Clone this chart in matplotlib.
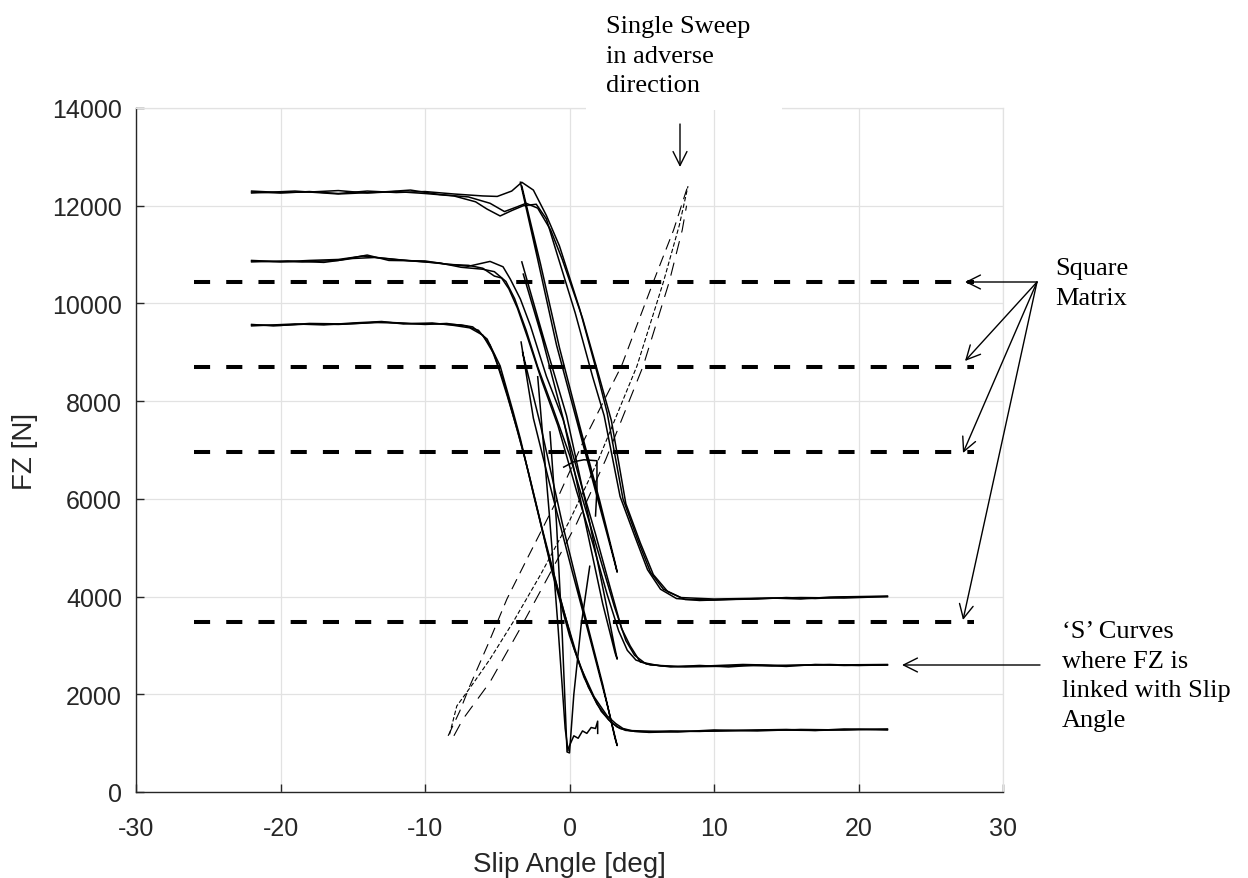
import matplotlib.pyplot as plt
from matplotlib.patches import Rectangle

plt.rcParams['axes.unicode_minus'] = False

# slip angle sweeps, group A (high load, ends near 4000 N)
a1_x = [-22, -20, -18, -16, -14, -12, -10, -8, -6, -5, -4, -3.3, -2.5, -1.6, -0.7, 0.7, 1.9, 2.6, 3.7, 4.7, 5.6, 6.5, 7.7, 10, 12, 14, 16, 18, 20, 22]
a1_y = [12280, 12260, 12290, 12250, 12300, 12270, 12290, 12240, 12200, 12190, 12300, 12480, 12320, 11800, 11180, 9890, 8590, 7770, 6000, 5180, 4500, 4150, 3980, 3950, 3960, 3970, 3950, 3990, 4000, 4010]
a2_x = [-22, -20, -18, -16, -14, -12, -10, -8, -6.5, -5.7, -4.8, -4, -3.2, -2.3, -1.6, -0.9, 0.4, 1.6, 2.4, 3.5, 4.5, 5.4, 6.3, 7.4, 9, 11, 13, 15, 17, 19, 22]
a2_y = [12300, 12270, 12280, 12310, 12260, 12290, 12250, 12200, 12080, 11930, 11790, 11900, 12000, 12030, 11730, 11050, 9800, 8500, 7700, 6050, 5250, 4550, 4150, 3960, 3920, 3940, 3950, 3980, 3960, 3990, 4000]
a3_x = [-22, -19, -16, -13, -11, -9, -7, -5.5, -4.5, -3.6, -3.0, -2.2, -1.3, -0.5, 0.9, 2.1, 2.9, 3.9, 4.9, 5.8, 6.8, 8, 10, 13, 16, 19, 22]
a3_y = [12260, 12300, 12240, 12280, 12320, 12230, 12180, 12050, 11880, 11980, 12050, 11950, 11500, 10900, 9700, 8450, 7600, 5900, 5100, 4450, 4100, 3940, 3930, 3960, 3980, 3970, 4000]

# group B (mid load, ends near 2600 N)
b1_x = [-22, -20, -18, -16, -14.3, -12, -10, -8, -7, -5.5, -4.6, -4.1, -3.4, -2.7, -1.6, -0.45, 0.8, 1.8, 2.8, 3.6, 4.2, 4.9, 6.3, 8, 10, 12, 14, 16, 18, 20, 22]
b1_y = [10870, 10850, 10880, 10900, 10970, 10900, 10850, 10790, 10760, 10860, 10750, 10500, 10090, 9540, 8510, 7630, 6300, 5280, 4200, 3350, 2990, 2660, 2580, 2560, 2570, 2590, 2580, 2600, 2610, 2590, 2600]
b2_x = [-22, -19.5, -17, -15, -13.5, -11, -9, -7.5, -6, -5.2, -4.4, -3.8, -3.0, -2.2, -1.2, 0, 1.2, 2.2, 3.1, 3.9, 4.5, 5.3, 7, 9, 11, 13, 15, 17, 19, 22]
b2_y = [10850, 10870, 10840, 10920, 10940, 10870, 10830, 10740, 10700, 10650, 10450, 10100, 9450, 8700, 7900, 6900, 5700, 4700, 3800, 3100, 2800, 2620, 2560, 2590, 2560, 2600, 2570, 2610, 2590, 2600]
b3_x = [-22, -20.5, -18.5, -16, -14, -12.5, -10, -8.5, -7, -6, -5.2, -4.7, -4.2, -3.6, -2.9, -1.9, -0.8, 0.5, 1.6, 2.6, 3.4, 4.0, 4.6, 5.6, 7.5, 9.5, 12, 15, 18, 22]
b3_y = [10880, 10860, 10850, 10880, 10990, 10880, 10870, 10800, 10780, 10720, 10560, 10520, 10300, 9900, 9300, 8400, 7500, 6150, 5100, 4050, 3300, 2900, 2700, 2600, 2570, 2580, 2610, 2590, 2600, 2610]

# group C (low load, ends near 1280 N)
c1_x = [-22, -20, -18, -16, -14, -13, -11, -9, -7.5, -6.7, -5.7, -4.8, -3.9, -3.4, -2.5, -1.56, -0.4, 0.73, 1.7, 2.6, 3.2, 3.7, 4.5, 5.4, 7, 9, 11, 13, 15, 17, 19, 22]
c1_y = [9560, 9550, 9580, 9570, 9600, 9620, 9590, 9580, 9560, 9520, 9270, 8720, 7780, 7230, 6100, 4970, 3700, 2580, 1950, 1560, 1400, 1300, 1240, 1230, 1250, 1240, 1260, 1270, 1280, 1260, 1290, 1280]
c2_x = [-22, -19, -17, -15, -13, -11.5, -9.5, -8, -6.9, -6.0, -5.2, -4.3, -3.6, -2.8, -1.9, -0.8, 0.3, 1.3, 2.2, 2.9, 3.5, 4.2, 5.5, 8, 11, 14, 17, 20, 22]
c2_y = [9540, 9580, 9560, 9600, 9630, 9580, 9600, 9550, 9500, 9350, 8950, 8100, 7400, 6500, 5400, 4150, 2950, 2150, 1650, 1420, 1300, 1250, 1220, 1240, 1250, 1270, 1260, 1280, 1270]
c3_x = [-22, -20.5, -18, -15.5, -13.5, -12, -10, -8.5, -7.2, -6.3, -5.5, -4.6, -3.8, -3.1, -2.2, -1.2, 0, 1.0, 1.9, 2.7, 3.3, 3.9, 5, 7.5, 10, 13, 16, 19, 22]
c3_y = [9570, 9540, 9590, 9580, 9610, 9600, 9570, 9590, 9540, 9450, 9150, 8450, 7600, 6850, 5750, 4500, 3200, 2350, 1800, 1480, 1330, 1260, 1250, 1230, 1270, 1250, 1280, 1270, 1290]

# narrow hysteresis loops from each peak
l1_x = [-3.4, -2.2, -0.9, 0.5, 1.9, 2.9, 3.3, 3.15, 2.1, 0.7, -0.7, -2.0, -3.3]
l1_y = [12480, 10900, 9150, 7600, 6050, 4950, 4500, 4700, 5950, 7500, 9100, 10800, 12400]
l2_x = [-3.3, -1.8, -0.2, 1.2, 2.5, 3.1, 3.3, 3.15, 2.3, 1.0, -0.4, -1.9, -3.2]
l2_y = [10850, 9300, 7700, 5800, 3900, 3000, 2720, 2850, 3850, 5650, 7600, 9300, 10600]
l3_x = [-3.35, -2.5, -1.2, 0.2, 1.5, 2.6, 3.3, 3.15, 2.3, 1.0, -0.5, -2.0, -3.25]
l3_y = [9210, 7650, 6100, 4500, 3050, 1800, 950, 1100, 2200, 3700, 5500, 7500, 9000]

# fast transients around zero slip
v1_x = [-1.35, -0.9, -0.5, -0.17, 0.0, 0.3, 0.8, 1.4]
v1_y = [7370, 5500, 3200, 820, 800, 2000, 3400, 4620]
v2_x = [-2.2, -1.4, -0.8, -0.3, -0.1]
v2_y = [8500, 5700, 3400, 1300, 850]
w_x = [-0.1, 0.3, 0.6, 0.9, 1.2, 1.5, 1.8, 1.95, 1.95]
w_y = [880, 1150, 1100, 1250, 1200, 1320, 1300, 1450, 1200]
h_x = [-0.4, 0.3, 1.0, 1.9, 1.9, 1.8]
h_y = [6650, 6760, 6800, 6780, 6200, 5650]

# single sweep in the adverse direction
d1_x = [-8.4, -7.6, -6.9, -5.6, -4.33, -2.94, -1.0, 1.0, 3.6, 5.8, 7.2, 8.27]
d1_y = [1150, 1650, 2170, 3050, 3950, 4770, 5900, 7200, 8720, 10440, 11500, 12480]
d2_x = [-8.3, -7.8, -6.6, -5.5, -3.9, -2.0, 0.0, 2.0, 4.67, 6.5, 7.6, 8.2]
d2_y = [1180, 1760, 2250, 2720, 3480, 4450, 5550, 6800, 8720, 10440, 11600, 12400]
d3_x = [-8.0, -7.37, -5.5, -3.43, -1.56, 0.5, 2.5, 5.1, 6.9, 7.8, 8.1]
d3_y = [1150, 1494, 2251, 3336, 4359, 5500, 6800, 8720, 10440, 11500, 12000]

# square test matrix load levels
matrix_fz = [10440, 8700, 6960, 3480]
matrix_x = [-26, 28]

W, H = 1248, 879


def fig_px(x, y):
    # pixel position measured from the top-left corner
    return x, H - y


fig = plt.figure(figsize=(W / 100, H / 100), dpi=100)
ax = fig.add_axes([136 / W, 1 - 793 / H, (1003 - 136) / W, (793 - 109) / H])

for fz in matrix_fz:
    ax.plot(matrix_x, [fz, fz], color='black', lw=2.9, dashes=(4, 4), zorder=3)

sweeps = [(a1_x, a1_y), (a2_x, a2_y), (a3_x, a3_y),
          (b1_x, b1_y), (b2_x, b2_y), (b3_x, b3_y),
          (c1_x, c1_y), (c2_x, c2_y), (c3_x, c3_y),
          (l1_x, l1_y), (l2_x, l2_y), (l3_x, l3_y),
          (v1_x, v1_y), (v2_x, v2_y), (w_x, w_y), (h_x, h_y)]
for sx, sy in sweeps:
    ax.plot(sx, sy, color='black', lw=1.1, zorder=2)

ax.plot(d1_x, d1_y, color='black', lw=0.8, dashes=(10, 6))
ax.plot(d2_x, d2_y, color='black', lw=0.8, dashes=(4, 2))
ax.plot(d3_x, d3_y, color='black', lw=0.8, dashes=(12, 8))

ax.set_xlim(-30, 30)
ax.set_ylim(0, 14000)
ax.set_xticks(range(-30, 31, 10))
ax.set_yticks(range(0, 14001, 2000))
ax.grid(True, color='#e2e2e2', lw=0.9)
ax.set_axisbelow(True)

for side in ['left', 'bottom']:
    ax.spines[side].set_color('#262626')
    ax.spines[side].set_linewidth(1.0)
for side in ['top', 'right']:
    ax.spines[side].set_color('#e2e2e2')
    ax.spines[side].set_linewidth(0.9)

ax.tick_params(direction='in', length=5.8, width=1.0, color='#262626',
               labelsize=18, labelcolor='#262626', top=False, right=False)
ax.tick_params(axis='x', pad=17)
ax.tick_params(axis='y', pad=10)
for lab in ax.get_xticklabels() + ax.get_yticklabels():
    lab.set_fontfamily('Liberation Sans')

ax.set_xlabel('Slip Angle [deg]', fontsize=20, family='Liberation Sans', color='#262626', labelpad=8)
ax.set_ylabel('FZ [N]', fontsize=20, family='Liberation Sans', color='#262626', labelpad=10)

# white panel behind the top note
fig.add_artist(Rectangle((586 / W, 1 - 111 / H), (782 - 586) / W, 111 / H,
                         transform=fig.transFigure, facecolor='white',
                         edgecolor='none', zorder=4))

note = dict(fontsize=19, family='Liberation Serif', color='black',
            ha='left', va='top', linespacing=1.45, zorder=5)
fig.text(606 / W, 1 - 16 / H, 'Single Sweep\nin adverse\ndirection', **note)
fig.text(1055 / W, 1 - 258 / H, 'Square\nMatrix', **note)
fig.text(1062 / W, 1 - 621 / H, '\u2018S\u2019 Curves\nwhere FZ is\nlinked with Slip\nAngle', **note)

arrow = dict(arrowstyle='->,head_length=1.0,head_width=0.5', color='black',
             lw=1.0, shrinkA=0, shrinkB=0, mutation_scale=10)
ax.annotate('', xy=fig_px(680, 168), xytext=fig_px(680, 125), xycoords='figure pixels',
            textcoords='figure pixels', arrowprops=arrow, annotation_clip=False, zorder=6)
for tx, ty in [(965, 283), (965, 362), (963, 454), (963, 621)]:
    ax.annotate('', xy=fig_px(tx, ty), xytext=fig_px(1037, 283), xycoords='figure pixels',
                textcoords='figure pixels', arrowprops=arrow, annotation_clip=False)
ax.annotate('', xy=fig_px(902, 666), xytext=fig_px(1040, 666), xycoords='figure pixels',
            textcoords='figure pixels', arrowprops=arrow, annotation_clip=False)

fig.savefig('out.png', dpi=100)
